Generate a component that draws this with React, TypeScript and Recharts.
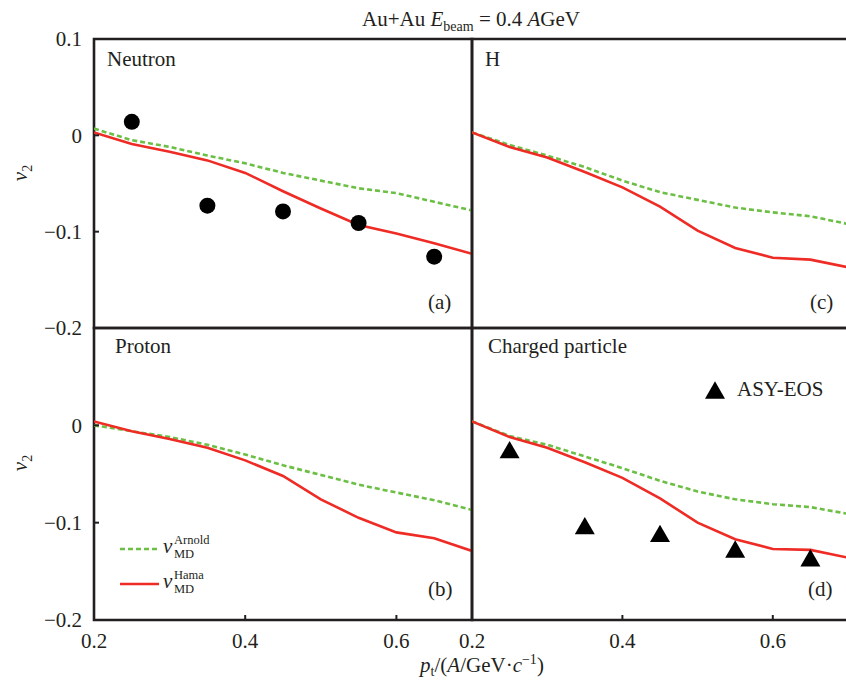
import React from "react";
import {
  ComposedChart,
  Line,
  Scatter,
  XAxis,
  YAxis,
  ReferenceArea,
  Legend,
} from "recharts";

const FONT = "'Liberation Serif', 'Times New Roman', serif";
const INK = "#231f20";
const GREEN = "#6cbf45";
const RED = "#ee2b24";

// p_t grid of the model curves, and of the measured points
const ptGrid = [0.2, 0.25, 0.3, 0.35, 0.4, 0.45, 0.5, 0.55, 0.6, 0.65, 0.7];
const ptExp = [0.25, 0.35, 0.45, 0.55, 0.65];

// (a) neutron
const neutronArnold = [0.007, -0.005, -0.012, -0.021, -0.029, -0.039, -0.047, -0.055, -0.06, -0.069, -0.078];
const neutronHama = [0.003, -0.009, -0.017, -0.026, -0.039, -0.058, -0.076, -0.093, -0.102, -0.112, -0.123];
const neutronData = [0.014, -0.073, -0.079, -0.091, -0.126];

// (c) H
const hArnold = [0.003, -0.01, -0.021, -0.033, -0.047, -0.059, -0.067, -0.075, -0.08, -0.084, -0.092];
const hHama = [0.003, -0.012, -0.023, -0.038, -0.054, -0.074, -0.099, -0.117, -0.127, -0.129, -0.137];

// (b) proton
const protonArnold = [0.0, -0.006, -0.012, -0.02, -0.03, -0.041, -0.051, -0.061, -0.069, -0.077, -0.087];
const protonHama = [0.004, -0.006, -0.014, -0.023, -0.036, -0.052, -0.076, -0.095, -0.11, -0.116, -0.129];

// (d) charged particle + ASY-EOS
const chargedArnold = [0.004, -0.011, -0.02, -0.032, -0.044, -0.057, -0.068, -0.076, -0.081, -0.084, -0.091];
const chargedHama = [0.004, -0.012, -0.023, -0.038, -0.054, -0.075, -0.1, -0.117, -0.127, -0.128, -0.136];
const asyEos = [-0.025, -0.103, -0.111, -0.127, -0.136];

const yTicksTop = [-0.2, -0.1, 0, 0.1];
const yTicksBottom = [-0.2, -0.1, 0];
const xTicks = [0.2, 0.4, 0.6];

const CW = 850;
const CH = 684;

type Pt = { pt: number; v2: number };
const toPts = (xs: number[], ys: number[]): Pt[] => xs.map((x, i) => ({ pt: x, v2: ys[i] }));

const fmt = (v: number) => (v === 0 ? "0" : (v < 0 ? "\u2212" : "") + Math.abs(v).toFixed(1));

const Dot = (p: any) => <circle cx={p.cx} cy={p.cy} r={8} fill="#000" />;
const Tri = (p: any) => (
  <polygon
    points={`${p.cx - 10},${p.cy + 8.7} ${p.cx + 10},${p.cy + 8.7} ${p.cx},${p.cy - 8.7}`}
    fill="#000"
  />
);

const visible = (items: any[]) => (items || []).filter((e) => e.type !== "none");

const MdLegend = (props: any) => {
  const items = visible(props.payload);
  return (
    <svg width={130} height={70} style={{ overflow: "visible" }}>
      {items.map((e: any, i: number) => {
        const y = 14 + i * 35;
        const dashed = e.value === "Arnold";
        return (
          <g key={e.value} fontFamily={FONT} fill={INK}>
            <line x1={2} x2={41} y1={y} y2={y} stroke={e.color} strokeWidth={2.6} strokeDasharray={dashed ? "5 3" : undefined} />
            <text x={45} y={y + 4} fontSize={21} fontStyle="italic">v</text>
            <text x={56} y={y - 5} fontSize={12.5}>{e.value}</text>
            <text x={56} y={y + 9} fontSize={12.5}>MD</text>
          </g>
        );
      })}
    </svg>
  );
};

const ExpLegend = (props: any) => {
  const items = visible(props.payload);
  return (
    <svg width={130} height={30} style={{ overflow: "visible" }}>
      {items.map((e: any) => (
        <g key={e.value} fontFamily={FONT} fill={INK}>
          <polygon points="5,20.7 25,20.7 15,3.3" fill="#000" />
          <text x={37} y={18} fontSize={21}>{e.value}</text>
        </g>
      ))}
    </svg>
  );
};

type Box = { x: number; y: number; w: number; h: number };

type PanelProps = {
  box: Box;
  yTicks?: number[];
  xTicks?: number[];
  arnold: Pt[];
  hama: Pt[];
  exp?: Pt[];
  expName?: string;
  marker?: any;
  legend?: "md" | "exp";
};

function Panel({ box, yTicks, xTicks: xt, arnold, hama, exp, expName, marker, legend }: PanelProps) {
  const tickStyle = { fill: INK, fontSize: 21, fontFamily: FONT };
  const tickLine = { stroke: INK, strokeWidth: 2 };
  return (
    <div style={{ position: "absolute", left: 0, top: 0 }}>
      <ComposedChart
        width={CW}
        height={CH}
        margin={{ top: box.y, left: box.x - 1, right: CW - box.x - box.w, bottom: CH - box.y - box.h - 1 }}
      >
        <XAxis
          type="number"
          dataKey="pt"
          domain={[0.2, 0.7]}
          allowDataOverflow
          height={1}
          ticks={xt || []}
          interval={0}
          tickFormatter={fmt}
          axisLine={false}
          tickSize={-5}
          tickMargin={18}
          tickLine={xt ? tickLine : false}
          tick={xt ? tickStyle : false}
        />
        <YAxis
          type="number"
          dataKey="v2"
          domain={[-0.2, 0.1]}
          allowDataOverflow
          width={1}
          ticks={yTicks || []}
          interval={0}
          tickFormatter={fmt}
          axisLine={false}
          tickSize={-5}
          tickMargin={17}
          tickLine={yTicks ? tickLine : false}
          tick={yTicks ? tickStyle : false}
        />
        <ReferenceArea
          x1={0.2}
          x2={0.7}
          y1={-0.2}
          y2={0.1}
          fill="none"
          stroke={INK}
          strokeWidth={2.6}
          ifOverflow="visible"
        />
        <Line
          data={arnold}
          dataKey="v2"
          name="Arnold"
          type="linear"
          stroke={GREEN}
          strokeWidth={2.6}
          strokeDasharray="5 3"
          dot={false}
          isAnimationActive={false}
          legendType={legend === "md" ? "line" : "none"}
        />
        <Line
          data={hama}
          dataKey="v2"
          name="Hama"
          type="linear"
          stroke={RED}
          strokeWidth={2.6}
          dot={false}
          isAnimationActive={false}
          legendType={legend === "md" ? "line" : "none"}
        />
        {exp && (
          <Scatter
            data={exp}
            dataKey="v2"
            name={expName}
            fill="#000"
            shape={marker}
            isAnimationActive={false}
            legendType={legend === "exp" ? "triangle" : "none"}
          />
        )}
        {legend === "md" && (
          <Legend
            layout="vertical"
            align="center"
            verticalAlign="middle"
            wrapperStyle={{ left: 118, top: 535, width: 130 }}
            content={MdLegend}
          />
        )}
        {legend === "exp" && (
          <Legend
            layout="vertical"
            align="center"
            verticalAlign="middle"
            wrapperStyle={{ left: 700, top: 378, width: 130 }}
            content={ExpLegend}
          />
        )}
      </ComposedChart>
    </div>
  );
}

export default function App() {
  const txt = { fontFamily: FONT, fill: INK, fontSize: 21 };
  return (
    <div
      style={{
        position: "absolute",
        left: 0,
        top: 0,
        width: 846,
        height: 684,
        overflow: "hidden",
        background: "#fff",
      }}
    >
      <Panel
        box={{ x: 94, y: 39, w: 378, h: 289 }}
        yTicks={yTicksTop}
        arnold={toPts(ptGrid, neutronArnold)}
        hama={toPts(ptGrid, neutronHama)}
        exp={toPts(ptExp, neutronData)}
        expName="Neutron data"
        marker={Dot}
      />
      <Panel
        box={{ x: 472, y: 39, w: 376, h: 289 }}
        arnold={toPts(ptGrid, hArnold)}
        hama={toPts(ptGrid, hHama)}
      />
      <Panel
        box={{ x: 94, y: 328, w: 378, h: 292 }}
        yTicks={yTicksBottom}
        xTicks={xTicks}
        arnold={toPts(ptGrid, protonArnold)}
        hama={toPts(ptGrid, protonHama)}
        legend="md"
      />
      <Panel
        box={{ x: 472, y: 328, w: 376, h: 292 }}
        xTicks={xTicks}
        arnold={toPts(ptGrid, chargedArnold)}
        hama={toPts(ptGrid, chargedHama)}
        exp={toPts(ptExp, asyEos)}
        expName="ASY-EOS"
        marker={Tri}
        legend="exp"
      />
      <svg width={846} height={684} style={{ position: "absolute", left: 0, top: 0, pointerEvents: "none" }}>
        <text {...txt} x={471} y={26} textAnchor="middle">
          Au+Au <tspan fontStyle="italic">E</tspan>
          <tspan fontSize={14} dy={5}>beam</tspan>
          <tspan dy={-5}> = 0.4 </tspan>
          <tspan fontStyle="italic">A</tspan>GeV
        </text>
        <text {...txt} x={482} y={672} textAnchor="middle">
          <tspan fontStyle="italic">p</tspan>
          <tspan fontSize={14} dy={4}>t</tspan>
          <tspan dy={-4}>/(</tspan>
          <tspan fontStyle="italic">A</tspan>/GeV·<tspan fontStyle="italic">c</tspan>
          <tspan fontSize={14} dy={-8}>{"\u22121"}</tspan>
          <tspan dy={8}>)</tspan>
        </text>
        <text {...txt} transform="translate(27,173) rotate(-90)" textAnchor="middle">
          <tspan fontStyle="italic">v</tspan>
          <tspan fontSize={14} dy={5}>2</tspan>
        </text>
        <text {...txt} transform="translate(27,463) rotate(-90)" textAnchor="middle">
          <tspan fontStyle="italic">v</tspan>
          <tspan fontSize={14} dy={5}>2</tspan>
        </text>
        <text {...txt} x={107} y={66}>Neutron</text>
        <text {...txt} x={485} y={66}>H</text>
        <text {...txt} x={115} y={353}>Proton</text>
        <text {...txt} x={488} y={353}>Charged particle</text>
        <text {...txt} x={428} y={309}>(a)</text>
        <text {...txt} x={810} y={309}>(c)</text>
        <text {...txt} x={428} y={596}>(b)</text>
        <text {...txt} x={808} y={596}>(d)</text>
      </svg>
    </div>
  );
}
